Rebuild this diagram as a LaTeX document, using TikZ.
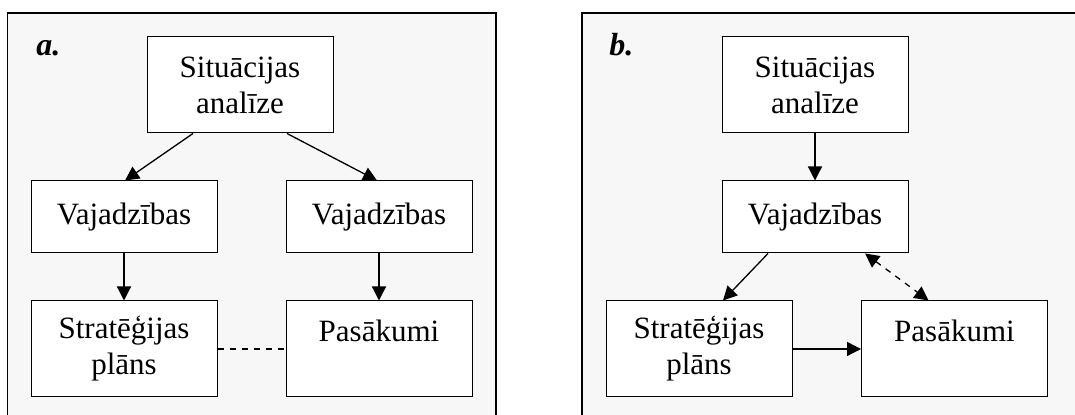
\documentclass[tikz,border=0pt]{standalone}
\usepackage{fontspec}
\setmainfont{Liberation Serif}
\usepackage{tikz}
\usetikzlibrary{arrows.meta,positioning}

\begin{document}
\begin{tikzpicture}[x=0.5pt,y=0.5pt,
  box/.style={draw,line width=0.5pt,fill=white,align=center,inner sep=0pt,
    minimum width=93pt,font=\fontsize{15.5}{18}\selectfont},
  tallbox/.style={box,minimum height=48pt},
  flatbox/.style={box,minimum height=36pt},
  arr/.style={-{Triangle[length=7pt,width=7pt]},line width=0.65pt},
  twoarr/.style={{Triangle[length=7pt,width=7pt]}-{Triangle[length=7pt,width=7pt]},line width=0.65pt,dashed},
  panel/.style={draw,line width=0.8pt,fill=black!3},
  tag/.style={anchor=base west,inner sep=0pt,font=\fontsize{16}{18}\selectfont\bfseries\itshape}]
\useasboundingbox (0,0) rectangle (1075,415);
\draw[panel] (7.5,-10) -- (7.5,402) -- (496,402) -- (496,-10);
\draw[panel] (582,-10) -- (582,402) -- (1085,402) -- (1085,-10);
% a.
\node[tag] (ta) at (36,359) {a.};
\node[tallbox] (sa) at (240,330) {Situācijas\\analīze};
\node[flatbox] (va1) at (124,198) {Vajadzības};
\node[flatbox] (va2) at (379,198) {Vajadzības};
\node[tallbox] (sta) at (124,66) {Stratēģijas\\plāns};
\node[tallbox] (pa) at (379,66) {Pasākumi\\\mbox{}};
\draw[arr] ([xshift=-23.5pt]sa.south) -- ([xshift=0.5pt]va1.north);
\draw[arr] ([xshift=23.5pt]sa.south) -- ([xshift=-1pt]va2.north);
\draw[arr] (va1) -- (sta);
\draw[arr] (va2) -- (pa);
\draw[dashed,line width=0.65pt] (sta.east) -- (pa.west);
% b.
\node[tag] (tb) at (609,359) {b.};
\node[tallbox] (sb) at (815,330) {Situācijas\\analīze};
\node[flatbox] (vb) at (815,198) {Vajadzības};
\node[tallbox] (stb) at (699,66) {Stratēģijas\\plāns};
\node[tallbox] (pb) at (954.5,66) {Pasākumi\\\mbox{}};
\draw[arr] (sb) -- (vb);
\draw[arr] ([xshift=-23.5pt]vb.south) -- ([xshift=12pt]stb.north);
\draw[twoarr] ([xshift=25pt]vb.south) -- ([xshift=-13pt]pb.north);
\draw[arr] (stb.east) -- (pb.west);
\end{tikzpicture}
\end{document}
